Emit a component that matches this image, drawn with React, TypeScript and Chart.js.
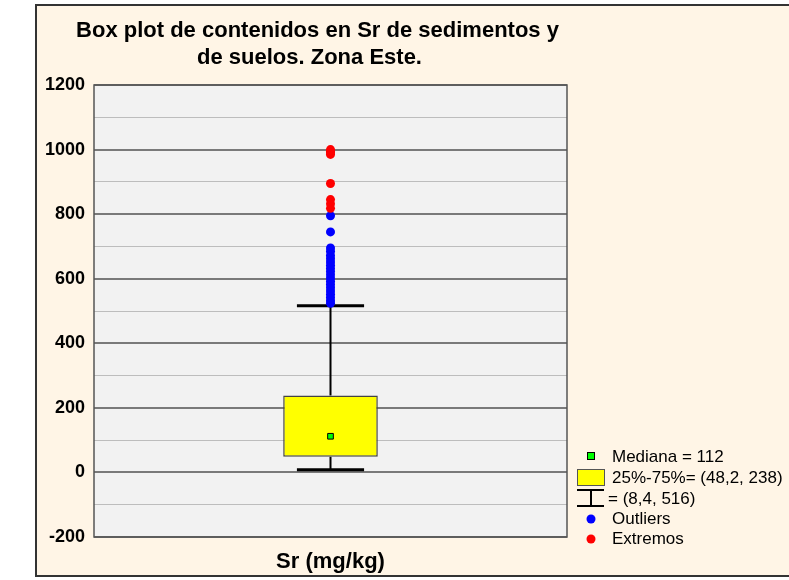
import React, { useEffect, useRef } from "react";
import { Chart, registerables } from "chart.js";

Chart.register(...registerables);

const categories = ["Sr (mg/kg)"];
const titleLines = ["Box plot de contenidos en Sr de sedimentos y", "de suelos. Zona Este."];
const median = [112];
const quartiles = [48.2, 238];
const whiskers = [8.4, 516];
const outliers = [795, 745, 695, 685, 672, 662, 652, 642, 632, 622, 612, 602, 592, 582, 572, 562, 552, 542, 532, 524];
const extremes = [1000, 995, 990, 985, 895, 845, 832, 818];
const yTicks = [-200, 0, 200, 400, 600, 800, 1000, 1200];

const fmt = (v: number) => String(v).replace(".", ",");

const FONT = "Arial, 'Liberation Sans', Helvetica, sans-serif";

const framePlugin = {
  id: "framePlugin",
  beforeDraw(chart: any) {
    const { ctx, chartArea: a } = chart;
    ctx.save();
    ctx.fillStyle = "#ffffff";
    ctx.fillRect(0, 0, chart.width, chart.height);
    ctx.fillStyle = "#fff5e6";
    ctx.fillRect(35, 5, chart.width, 571);
    ctx.strokeStyle = "#333333";
    ctx.lineWidth = 2;
    ctx.strokeRect(36, 5, chart.width + 10, 571);
    ctx.fillStyle = "#f2f2f2";
    ctx.fillRect(a.left, a.top, a.right - a.left, a.bottom - a.top);
    ctx.restore();
  },
  beforeDatasetsDraw(chart: any) {
    const { ctx, scales } = chart;
    const x = scales.x;
    const y = scales.y;
    const meta = chart.getDatasetMeta(0);
    const bar = meta.data[0];
    const cx = x.getPixelForValue(0);
    const capHalf = (bar.width * 0.71) / 2;
    ctx.save();
    ctx.strokeStyle = "#000000";
    ctx.lineWidth = 2;
    ctx.beginPath();
    ctx.moveTo(cx, y.getPixelForValue(quartiles[1]));
    ctx.lineTo(cx, y.getPixelForValue(whiskers[1]));
    ctx.moveTo(cx, y.getPixelForValue(quartiles[0]));
    ctx.lineTo(cx, y.getPixelForValue(whiskers[0]));
    ctx.stroke();
    ctx.lineWidth = 3;
    ctx.beginPath();
    ctx.moveTo(cx - capHalf, y.getPixelForValue(whiskers[1]));
    ctx.lineTo(cx + capHalf, y.getPixelForValue(whiskers[1]));
    ctx.moveTo(cx - capHalf, y.getPixelForValue(whiskers[0]));
    ctx.lineTo(cx + capHalf, y.getPixelForValue(whiskers[0]));
    ctx.stroke();
    ctx.restore();
  },
  afterDraw(chart: any) {
    const { ctx, chartArea: a } = chart;
    ctx.save();
    // plot border
    ctx.strokeStyle = "#555555";
    ctx.lineWidth = 1.5;
    ctx.strokeRect(a.left, a.top, a.right - a.left, a.bottom - a.top);

    // title
    const cx = (a.left + a.right) / 2;
    ctx.fillStyle = "#000000";
    ctx.font = `bold 22px ${FONT}`;
    ctx.textAlign = "center";
    ctx.textBaseline = "middle";
    ctx.fillText(titleLines[0], cx - 13, 31);
    ctx.fillText(titleLines[1], cx - 21, 58);

    // x label
    ctx.font = `bold 22px ${FONT}`;
    ctx.fillText(categories[0], cx, 562);

    // legend
    const lx = a.right + 10;
    ctx.font = `17px ${FONT}`;
    ctx.textAlign = "left";
    ctx.textBaseline = "middle";
    // median
    ctx.fillStyle = "#00ff00";
    ctx.fillRect(lx + 10.5, 452.5, 7, 7);
    ctx.strokeStyle = "#000000";
    ctx.lineWidth = 1;
    ctx.strokeRect(lx + 10.5, 452.5, 7, 7);
    ctx.fillStyle = "#000000";
    ctx.fillText(`Mediana = ${fmt(median[0])}`, lx + 35, 457);
    // box
    ctx.fillStyle = "#ffff00";
    ctx.fillRect(lx, 469, 27, 16);
    ctx.strokeStyle = "#555555";
    ctx.strokeRect(lx + 0.5, 469.5, 27, 16);
    ctx.fillStyle = "#000000";
    ctx.fillText(`25%-75%= (${fmt(quartiles[0])}, ${fmt(quartiles[1])})`, lx + 35, 478);
    // whisker
    ctx.strokeStyle = "#000000";
    ctx.lineWidth = 2;
    ctx.beginPath();
    ctx.moveTo(lx, 490);
    ctx.lineTo(lx + 27, 490);
    ctx.moveTo(lx, 506);
    ctx.lineTo(lx + 27, 506);
    ctx.moveTo(lx + 14, 490);
    ctx.lineTo(lx + 14, 506);
    ctx.stroke();
    ctx.fillText(`= (${fmt(whiskers[0])}, ${fmt(whiskers[1])})`, lx + 31, 499);
    // outliers
    ctx.fillStyle = "#0000ff";
    ctx.beginPath();
    ctx.arc(lx + 14, 519, 4.5, 0, Math.PI * 2);
    ctx.fill();
    ctx.fillStyle = "#000000";
    ctx.fillText("Outliers", lx + 35, 519);
    ctx.fillStyle = "#ff0000";
    ctx.beginPath();
    ctx.arc(lx + 14, 539, 4.5, 0, Math.PI * 2);
    ctx.fill();
    ctx.fillStyle = "#000000";
    ctx.fillText("Extremos", lx + 35, 539);
    ctx.restore();
  },
};

export default function App() {
  const ref = useRef<HTMLCanvasElement>(null);
  useEffect(() => {
    document.body.style.margin = "0";
    const label = categories[0];
    const chart = new Chart(ref.current as HTMLCanvasElement, {
      type: "bar",
      data: {
        labels: categories,
        datasets: [
          {
            type: "bar",
            data: [quartiles as any],
            backgroundColor: "#ffff00",
            borderColor: "#444444",
            borderWidth: 1.5,
            borderSkipped: false,
            barPercentage: 0.2,
            categoryPercentage: 1,
            order: 3,
          } as any,
          {
            type: "line",
            data: median.map((v) => ({ x: label, y: v })),
            showLine: false,
            pointStyle: "rect",
            pointRadius: 4,
            backgroundColor: "#00ff00",
            borderColor: "#000000",
            borderWidth: 1,
            order: 2,
          } as any,
          {
            type: "line",
            data: outliers.map((v) => ({ x: label, y: v })),
            showLine: false,
            pointRadius: 4.5,
            backgroundColor: "#0000ff",
            borderColor: "#0000ff",
            borderWidth: 0,
            order: 1,
          } as any,
          {
            type: "line",
            data: extremes.map((v) => ({ x: label, y: v })),
            showLine: false,
            pointRadius: 4.5,
            backgroundColor: "#ff0000",
            borderColor: "#ff0000",
            borderWidth: 0,
            order: 0,
          } as any,
        ],
      },
      options: {
        animation: false,
        responsive: false,
        layout: { padding: { left: 35, top: 85, right: 222, bottom: 43 } },
        plugins: {
          legend: { display: false },
          tooltip: { enabled: false },
          title: { display: false },
        },
        scales: {
          x: {
            type: "category",
            grid: { display: false },
            border: { display: false },
            ticks: { display: false },
            afterFit: (s: any) => {
              s.height = 0;
            },
          },
          y: {
            min: yTicks[0],
            max: yTicks[yTicks.length - 1],
            ticks: {
              stepSize: 100,
              callback: (v: any) => (yTicks.includes(Number(v)) ? String(v) : ""),
              color: "#000000",
              font: { family: FONT, size: 18, weight: "bold" },
              padding: 9,
            },
            grid: {
              drawTicks: false,
              color: (c: any) => (yTicks.includes(c.tick?.value) ? "#7a7a7a" : "#bdbdbd"),
              lineWidth: (c: any) => (yTicks.includes(c.tick?.value) ? 2 : 1),
            },
            border: { display: false },
            afterFit: (s: any) => {
              s.width = 59;
            },
          },
        },
      } as any,
      plugins: [framePlugin],
    });
    return () => chart.destroy();
  }, []);
  return <canvas ref={ref} width={789} height={580} style={{ display: "block" }} />;
}
